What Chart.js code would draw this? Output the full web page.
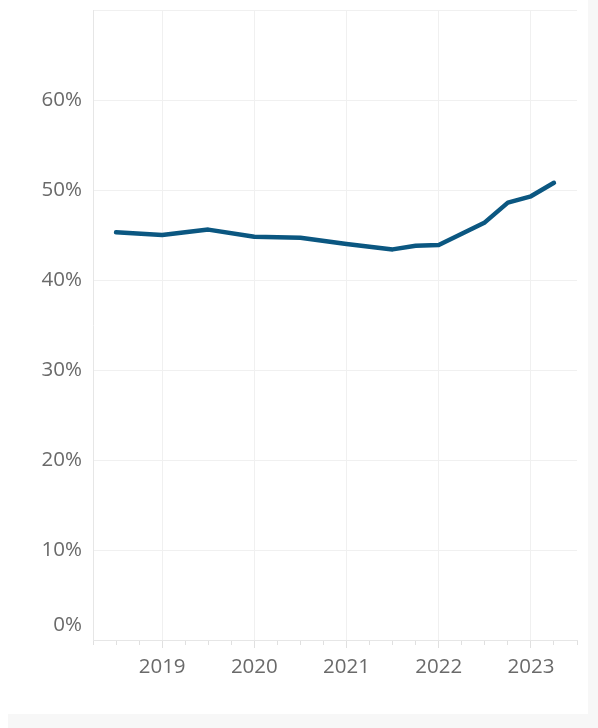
<!DOCTYPE html>
<html>
<head>
<meta charset="utf-8">
<script src="https://cdn.jsdelivr.net/npm/chart.js@4.4.1/dist/chart.umd.min.js"></script>
<style>
  html, body { margin: 0; padding: 0; background: #fff; }
  #wrap { position: absolute; left: 0; top: 0; width: 588px; height: 714px; background: #fff; }
  #rightStrip { position: absolute; left: 588px; top: 0; width: 10px; height: 728px; background: #f7f7f7; }
  #bottomBand { position: absolute; left: 8px; top: 714px; width: 590px; height: 14px; background: #f7f7f7; }
</style>
</head>
<body>
<div id="wrap"><canvas id="mycanvas"></canvas></div>
<div id="rightStrip"></div>
<div id="bottomBand"></div>
<script>
// x positions as fractional years (quarter starts)
var periods = [2018.5, 2019, 2019.5, 2020, 2020.5, 2021, 2021.5, 2021.75, 2022, 2022.5, 2022.75, 2023, 2023.25];
var share = [45.3, 45.0, 45.6, 44.8, 44.7, 44.0, 43.4, 43.8, 43.9, 46.4, 48.6, 49.3, 50.8];
var yTicks = [0, 10, 20, 30, 40, 50, 60];

var points = [];
for (var i in periods) {
    points.push({x: periods[i], y: share[i]});
}

var gridColor = "#f0f0f0";
var labelColor = "#6a6a6a";

var ctx = document.getElementById("mycanvas");
var lineChart = new Chart(ctx, {
    type: 'line',
    data: {
        datasets: [{
            data: points,
            borderColor: "#0b5781",
            borderWidth: 4.5,
            borderCapStyle: 'round',
            borderJoinStyle: 'round',
            pointRadius: 0,
            tension: 0,
            fill: false
        }]
    },
    options: {
        animation: false,
        responsive: true,
        maintainAspectRatio: false,
        layout: { padding: { top: 10, right: 11, left: 0, bottom: 0 } },
        plugins: { legend: { display: false }, tooltip: { enabled: false } },
        scales: {
            x: {
                type: 'linear',
                min: 2018.25,
                max: 2023.5,
                afterFit: function(scale) { scale.height = 74; },
                border: { display: true, color: "#e6e6e6" },
                grid: {
                    color: function(c) { return Number.isInteger(c.tick.value) ? gridColor : 'rgba(0,0,0,0)'; },
                    tickColor: "#e0e0e0",
                    tickLength: 8,
                    tickBorderDash: function(c) { return Number.isInteger(c.tick.value) ? [] : [4, 100]; }
                },
                ticks: {
                    stepSize: 0.25,
                    autoSkip: false,
                    maxRotation: 0,
                    padding: 7,
                    color: labelColor,
                    font: { family: "Open Sans", size: 20.5, lineHeight: 1.2 },
                    callback: function(v) { return Number.isInteger(v) ? String(v) : ''; }
                }
            },
            y: {
                min: 0,
                max: 70,
                afterFit: function(scale) {
                    scale.width = 93;
                    scale.paddingTop = 0;
                    scale.paddingBottom = 0;
                },
                afterBuildTicks: function(scale) {
                    scale.ticks = yTicks.concat([70]).map(function(v) { return {value: v}; });
                },
                border: { display: true, color: "#e6e6e6" },
                grid: { color: gridColor, drawTicks: false },
                ticks: {
                    padding: 11,
                    color: labelColor,
                    font: { family: "Open Sans", size: 20.5, lineHeight: 0.74 },
                    callback: function(v) {
                        if (v === 0) return ['0%', '', ''];
                        if (yTicks.indexOf(v) < 0) return '';
                        return v + '%';
                    }
                }
            }
        }
    }
});
</script>
</body>
</html>
